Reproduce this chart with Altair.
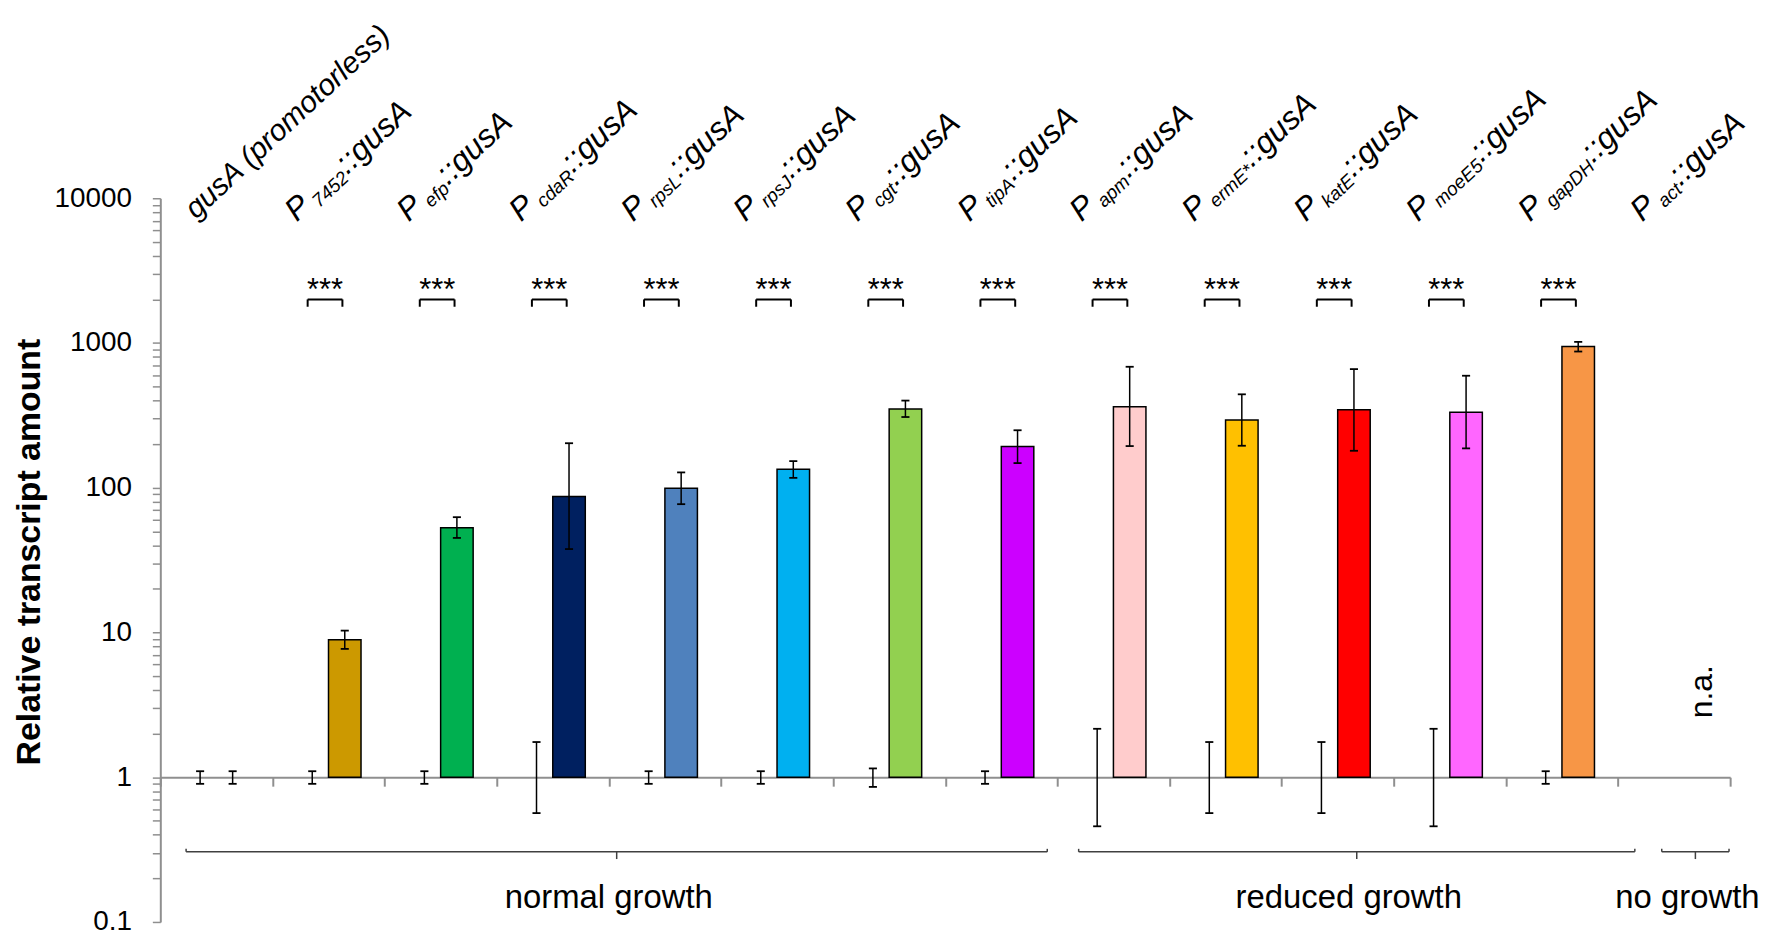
import altair as alt
import pandas as pd

# ---------------- data ----------------
label_main = ["gusA (promotorless)"] + ["P"] * 13
subscripts = ["", "7452", "efp", "cdaR", "rpsL", "rpsJ", "cgt", "tipA",
              "apm", "ermE*", "katE", "moeE5", "gapDH", "act"]
suffixes = [""] + ["::gusA"] * 13
colors = ["#FFFFFF", "#CC9900", "#00B050", "#002060", "#4F81BD", "#00B0F0",
          "#92D050", "#CC00FF", "#FFCCCC", "#FFC000", "#FF0000", "#FF66FF",
          "#F79646", "#FFFFFF"]
values = [1.0, 8.9, 53, 87, 99, 134, 350, 193, 363, 294, 346, 332, 944, None]
err_low = [0.9, 7.7, 45, 37.7, 77, 117, 308, 148, 194, 195, 180, 187, 873, None]
err_high = [1.1, 10.3, 62.6, 203, 127.6, 152.7, 400, 249.5, 685, 442, 660, 594, 1018, None]
ctrl_values = [1.0] * 13 + [None]
ctrl_low = [0.9, 0.9, 0.9, 0.565, 0.9, 0.9, 0.857, 0.9, 0.458, 0.565, 0.565, 0.458, 0.9, None]
ctrl_high = [1.1, 1.1, 1.1, 1.75, 1.1, 1.1, 1.15, 1.1, 2.16, 1.75, 1.75, 2.16, 1.1, None]
significance = [""] + ["***"] * 12 + [""]

group_names = ["normal growth", "reduced growth", "no growth"]
group_start = [0.23, 8.19, 13.39]
group_end = [7.91, 13.15, 13.99]

# ---------------- styling ----------------
FONT = "Liberation Sans"
GRAY = "#8f8f8f"
BIG, SUB, FIRST = 32, 19, 30
ANGLE = 317
SIG_Y, SIG_LEG = 2000, 1780
GB_Y, GB_UP, GB_DOWN, GB_TEXT = 0.305, 0.32, 0.272, 0.124

ARIAL = {**{d: 556 for d in "0123456789"},
         "a": 556, "b": 556, "c": 500, "d": 556, "e": 556, "f": 278, "g": 556,
         "h": 556, "i": 222, "j": 222, "k": 500, "l": 222, "m": 833, "n": 556,
         "o": 556, "p": 556, "q": 556, "r": 333, "s": 500, "t": 278, "u": 556,
         "v": 500, "w": 722, "x": 500, "y": 500, "z": 500, "A": 667, "D": 722,
         "E": 667, "H": 722, "J": 500, "L": 556, "P": 667, "R": 722, "*": 389,
         ":": 278, " ": 278, "(": 333, ")": 333}


def tw(s, size):
    return sum(ARIAL.get(c, 556) for c in s) * size / 1000.0


DX0, DY0 = -40, -4
rows = []
for i in range(len(subscripts)):
    plain = subscripts[i] == ""
    main_dx = DX0 + (10 if plain else 0)
    main_dy = DY0 + (6 if plain else 0)
    main_size = FIRST if plain else BIG
    sub_dx = main_dx + tw(label_main[i], main_size) + 5
    rows.append(dict(idx=i, main=label_main[i], sub=subscripts[i], suffix=suffixes[i],
                     value=values[i], lo=err_low[i], hi=err_high[i],
                     cval=ctrl_values[i], clo=ctrl_low[i], chi=ctrl_high[i],
                     sig=significance[i], color=colors[i], main_dx=main_dx,
                     main_dy=main_dy, main_size=main_size,
                     sub_dx=sub_dx, suf_dx=sub_dx + tw(subscripts[i], SUB) + 1))
df = pd.DataFrame(rows)
gdf = pd.DataFrame({"name": group_names, "start": group_start, "end": group_end})

xs = alt.Scale(domain=[0, 14], nice=False, zero=False)
ys = alt.Scale(type="log", domain=[0.1, 10000], nice=False)

y_ticks = [m * 10 ** e for e in range(-1, 4) for m in range(1, 10)] + [10000]

x_axis = alt.Axis(values=list(range(15)), labels=False, tickSize=9, tickColor=GRAY,
                  tickWidth=2, domainColor=GRAY, domainWidth=2, grid=False, title=None,
                  offset=-145.4)
y_axis = alt.Axis(values=y_ticks, labelExpr="indexof([0.1, 1, 10, 100, 1000, 10000], datum.value) >= 0 ? format(datum.value, '~g') : ''",
                  labelOverlap=False, labelFont=FONT, labelFontSize=28, labelColor="black",
                  labelPadding=21, tickSize=8, tickColor=GRAY, tickWidth=1.5,
                  domainColor=GRAY, domainWidth=2, grid=False,
                  title="Relative transcript amount", titleFont=FONT, titleFontSize=34,
                  titleFontWeight="bold", titleColor="black", titleAngle=270,
                  titleX=-131, titleY=355, titleAlign="center", titleBaseline="middle")


def X(f):
    return alt.X(f, scale=xs, axis=x_axis)


def Y(f):
    return alt.Y(f, scale=ys, axis=y_axis)


base = alt.Chart(df)

bars = base.transform_filter("isValid(datum.value) && datum.value > 1").transform_calculate(
    x0="datum.idx + 0.5", x1="datum.idx + 0.79", one="1"
).mark_bar(stroke="black", strokeWidth=1.5).encode(
    x=X("x0:Q"), x2="x1:Q", y=Y("value:Q"), y2="one:Q",
    color=alt.Color("color:N", scale=None),
)


def errorbars(offset, lo, hi):
    src = base.transform_filter(f"isValid(datum.{hi})").transform_calculate(
        xm=f"datum.idx + {offset}", xl=f"datum.idx + {offset} - 0.036",
        xr=f"datum.idx + {offset} + 0.036")
    stem = src.mark_rule(color="black", strokeWidth=1.5).encode(
        x=X("xm:Q"), y=Y(f"{lo}:Q"), y2=f"{hi}:Q")
    caps = src.transform_fold([lo, hi], as_=["end", "v"]).mark_rule(
        color="black", strokeWidth=1.8).encode(x=X("xl:Q"), x2="xr:Q", y=Y("v:Q"))
    return [stem, caps]


err_main = errorbars(0.645, "lo", "hi")
err_ctrl = errorbars(0.355, "clo", "chi")

# significance brackets and stars
sig_src = base.transform_filter("datum.sig != ''").transform_calculate(
    l="datum.idx + 0.314", r="datum.idx + 0.624", xm="datum.idx + 0.469",
    yt=str(SIG_Y), yl=str(SIG_LEG))
sig_bar = sig_src.mark_rule(color="black", strokeWidth=2).encode(
    x=X("l:Q"), x2="r:Q", y=Y("yt:Q"))
sig_legs = sig_src.transform_fold(["l", "r"], as_=["side", "xv"]).mark_rule(
    color="black", strokeWidth=2).encode(x=X("xv:Q"), y=Y("yt:Q"), y2="yl:Q")
stars = sig_src.mark_text(font=FONT, fontSize=31, align="center", baseline="alphabetic",
                          dy=1, color="black").encode(x=X("xm:Q"), y=Y("yt:Q"), text="sig:N")

# category labels (rotated, with subscripts)
lab_src = base.transform_calculate(xm="datum.idx + 0.5", yt="10000")
lab_main = lab_src.mark_text(font=FONT, fontStyle="italic",
                             fontSize=alt.ExprRef(expr="datum.main_size"), angle=ANGLE,
                             align="left", baseline="alphabetic",
                             dx=alt.ExprRef(expr="datum.main_dx"),
                             dy=alt.ExprRef(expr="datum.main_dy"),
                             color="black").encode(x=X("xm:Q"), y=Y("yt:Q"), text="main:N")
lab_sub = lab_src.mark_text(font=FONT, fontStyle="italic", fontSize=SUB, angle=ANGLE,
                            align="left", baseline="alphabetic",
                            dx=alt.ExprRef(expr="datum.sub_dx"), dy=DY0 + 5,
                            color="black").encode(x=X("xm:Q"), y=Y("yt:Q"), text="sub:N")
lab_suf = lab_src.mark_text(font=FONT, fontStyle="italic", fontSize=BIG, angle=ANGLE,
                            align="left", baseline="alphabetic",
                            dx=alt.ExprRef(expr="datum.suf_dx"), dy=DY0,
                            color="black").encode(x=X("xm:Q"), y=Y("yt:Q"), text="suffix:N")

# n.a. label
na_text = base.transform_filter("!isValid(datum.value)").transform_calculate(
    xm="datum.idx + 0.645", yt="3.9", t="'n.a.'").mark_text(
    font=FONT, fontSize=32, angle=270, align="center", baseline="alphabetic", dy=22,
    color="black").encode(x=X("xm:Q"), y=Y("yt:Q"), text="t:N")

# growth group brackets
gbase = alt.Chart(gdf).transform_calculate(
    mid="(datum.start + datum.end) / 2", yb=str(GB_Y), yu=str(GB_UP), yd=str(GB_DOWN),
    yt=str(GB_TEXT))
g_line = gbase.mark_rule(color="#404040", strokeWidth=1.5).encode(
    x=X("start:Q"), x2="end:Q", y=Y("yb:Q"))
g_ends = gbase.transform_fold(["start", "end"], as_=["side", "xv"]).mark_rule(
    color="#404040", strokeWidth=1.5).encode(x=X("xv:Q"), y=Y("yb:Q"), y2="yu:Q")
g_mid = gbase.mark_rule(color="#404040", strokeWidth=1.5).encode(
    x=X("mid:Q"), y=Y("yb:Q"), y2="yd:Q")
g_text = gbase.mark_text(font=FONT, fontSize=33, align="center", baseline="alphabetic",
                         dx=-8, color="black").encode(x=X("mid:Q"), y=Y("yt:Q"), text="name:N")

chart = alt.layer(
    bars, *err_main, *err_ctrl, sig_bar, sig_legs, stars,
    lab_main, lab_sub, lab_suf, na_text, g_line, g_ends, g_mid, g_text
).properties(
    width=1577, height=727,
    autosize=alt.AutoSizeParams(type="none"),
    padding={"left": 153, "top": 189, "right": 33, "bottom": 13},
).configure_view(stroke=None)

chart.save("out.html", embed_options={"renderer": "svg", "actions": False})
